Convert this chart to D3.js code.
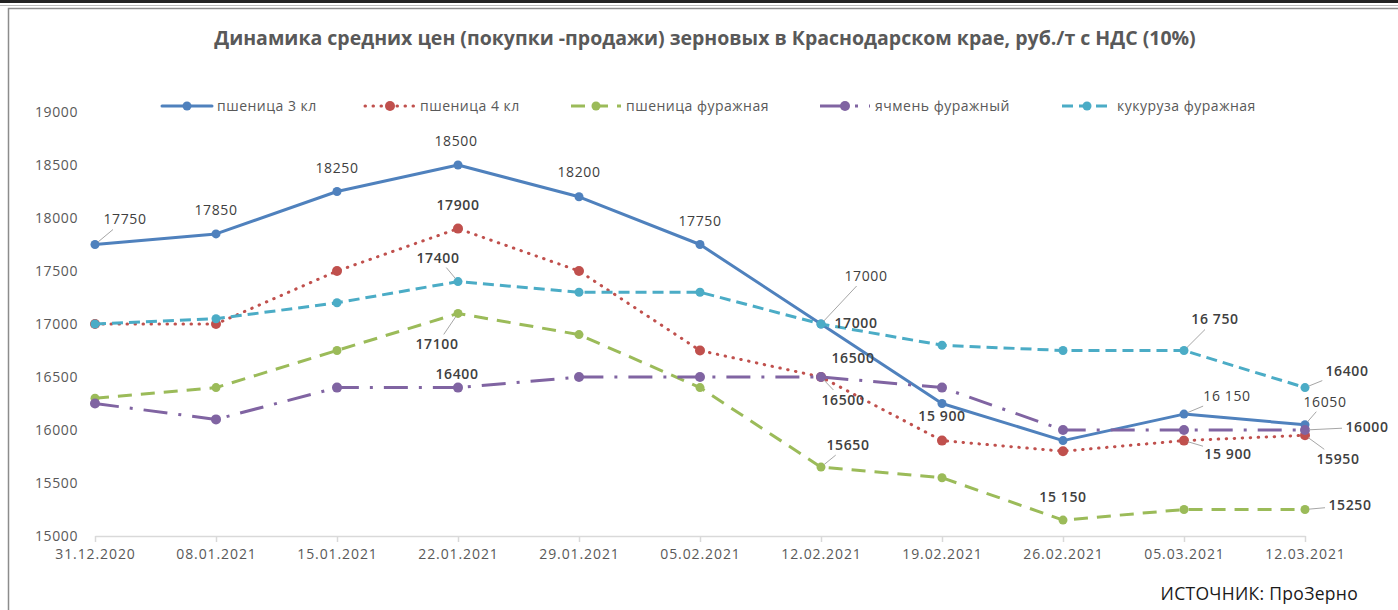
<!DOCTYPE html>
<html>
<head>
<meta charset="utf-8">
<script src="https://cdn.jsdelivr.net/npm/d3@7"></script>
<style>
  body { margin: 0; background: #fff; }
  text { font-family: "Open Sans", sans-serif; }
</style>
</head>
<body>
<div id="container"></div>
<script>
const WIDTH = 1398;
const HEIGHT = 610;

var DATES = ["31.12.2020", "08.01.2021", "15.01.2021", "22.01.2021", "29.01.2021", "05.02.2021",
    "12.02.2021", "19.02.2021", "26.02.2021", "05.03.2021", "12.03.2021"];
var Y_TICKS = [15000, 15500, 16000, 16500, 17000, 17500, 18000, 18500, 19000];

var WHEAT3 = [17750, 17850, 18250, 18500, 18200, 17750, 17000, 16250, 15900, 16150, 16050];
var WHEAT4 = [17000, 17000, 17500, 17900, 17500, 16750, 16500, 15900, 15800, 15900, 15950];
var WHEAT_FEED = [16300, 16400, 16750, 17100, 16900, 16400, 15650, 15550, 15150, 15250, 15250];
var BARLEY_FEED = [16250, 16100, 16400, 16400, 16500, 16500, 16500, 16400, 16000, 16000, 16000];
var CORN_FEED = [17000, 17050, 17200, 17400, 17300, 17300, 17000, 16800, 16750, 16750, 16400];

var TITLE = "Динамика средних цен (покупки -продажи) зерновых в Краснодарском крае, руб./т с НДС (10%)";
var SOURCE = "ИСТОЧНИК: ПроЗерно";

var series = [
    {name: "пшеница 3 кл", values: WHEAT3, color: "#4f81bd", dash: null, cap: "round", r: 4.5, legendX: 162, bold: false},
    {name: "пшеница 4 кл", values: WHEAT4, color: "#c0504d", dash: "0.5,7.5", cap: "round", r: 5, legendX: 365, bold: true},
    {name: "пшеница фуражная", values: WHEAT_FEED, color: "#9bbb59", dash: "14,9", cap: "butt", r: 4.5, legendX: 571, bold: true},
    {name: "ячмень фуражный", values: BARLEY_FEED, color: "#8064a2", dash: "24,11,3,11", cap: "butt", r: 5, legendX: 820, bold: true},
    {name: "кукуруза фуражная", values: CORN_FEED, color: "#4bacc6", dash: "11,6", cap: "butt", r: 4.5, legendX: 1062, bold: true}
];

// which points carry a data label: [series, point, dx, dy, leader, grouped]
var labels = [
    [0, 0, 30, -25, true, false], [0, 1, 0, -24, false, false], [0, 2, 0, -23, false, false],
    [0, 3, -2, -24, false, false], [0, 4, 0, -25, false, false], [0, 5, 0, -23, false, false],
    [0, 6, 45, -48, true, false], [0, 9, 43, -18, true, true], [0, 10, 20, -23, true, false],
    [1, 3, 0, -24, false, false], [1, 6, 22, 23, true, false], [1, 7, 0, -25, false, true],
    [1, 9, 44, 13, true, true], [1, 10, 33, 24, true, false],
    [2, 3, -21, 31, true, false], [2, 6, 27, -22, true, false], [2, 8, 0, -23, false, true],
    [2, 10, 45, -4, true, false],
    [3, 3, -1, -14, false, false], [3, 6, 32, -19, false, false], [3, 10, 62, -3, true, false],
    [4, 3, -20, -24, true, false], [4, 6, 35, -1, false, false], [4, 9, 31, -31, true, true],
    [4, 10, 42, -17, true, false]
];

var spaced = d3.formatLocale({decimal: ",", thousands: " ", grouping: [3]}).format(",");

var XScale = d3.scalePoint().domain(DATES).range([95, 1305]).padding(0);
var YScale = d3.scaleLinear().domain([15000, 19000]).range([536, 112]);

var svg = d3.select("#container").append("svg")
    .attr("width", WIDTH)
    .attr("height", HEIGHT);

// spreadsheet frame
svg.append("line").attr("x1", 0).attr("x2", WIDTH).attr("y1", 1.5).attr("y2", 1.5)
    .attr("stroke", "#222").attr("stroke-width", 3);
svg.append("line").attr("x1", 0).attr("x2", WIDTH).attr("y1", 5.5).attr("y2", 5.5)
    .attr("stroke", "#bbb").attr("stroke-width", 1);
svg.append("rect").attr("x", 8.5).attr("y", 8.5).attr("width", WIDTH).attr("height", HEIGHT)
    .attr("fill", "none").attr("stroke", "#8c8c8c").attr("stroke-width", 1.5);

svg.append("text")
    .attr("x", 705).attr("y", 45)
    .attr("text-anchor", "middle")
    .attr("font-size", 19.5).attr("font-weight", "bold")
    .attr("fill", "#595959")
    .text(TITLE);

// y axis, labels only
var yAxis = svg.append("g")
    .attr("transform", "translate(86,0)")
    .call(d3.axisLeft(YScale).tickValues(Y_TICKS).tickSize(0).tickPadding(8).tickFormat(d3.format("d")));
yAxis.select(".domain").remove();
yAxis.selectAll("text").attr("font-size", 14).attr("fill", "#595959")
    .attr("letter-spacing", 0.6).attr("font-family", "Open Sans");

// x axis
var xAxis = svg.append("g")
    .attr("transform", "translate(0,536)")
    .call(d3.axisBottom(XScale).tickSize(6).tickSizeOuter(0).tickPadding(7));
xAxis.select(".domain").attr("stroke", "#d9d9d9").attr("stroke-width", 1.5);
xAxis.selectAll(".tick line").attr("stroke", "#d9d9d9").attr("stroke-width", 1.5);
xAxis.selectAll("text").attr("font-size", 14).attr("fill", "#595959")
    .attr("letter-spacing", 0.9).attr("font-family", "Open Sans");

var line = d3.line()
    .x(function (d, i) { return XScale(DATES[i]); })
    .y(function (d) { return YScale(d); });

series.forEach(function (s) {
    svg.append("path")
        .datum(s.values)
        .attr("d", line)
        .attr("fill", "none")
        .attr("stroke", s.color)
        .attr("stroke-width", 3)
        .attr("stroke-linecap", s.cap)
        .attr("stroke-linejoin", "round")
        .attr("stroke-dasharray", s.dash);
    svg.selectAll(null)
        .data(s.values)
        .enter().append("circle")
        .attr("cx", function (d, i) { return XScale(DATES[i]); })
        .attr("cy", function (d) { return YScale(d); })
        .attr("r", s.r)
        .attr("fill", s.color);
});

// data labels with leader lines
labels.forEach(function (l) {
    var s = series[l[0]];
    var v = s.values[l[1]];
    var px = XScale(DATES[l[1]]), py = YScale(v);
    var cx = px + l[2], cy = py + l[3];
    if (l[4]) {
        var dx = px - cx, dy = py - cy;
        var len = Math.sqrt(dx * dx + dy * dy);
        var t = Math.min(Math.abs(dx) > 0 ? 25 / Math.abs(dx) : 99, Math.abs(dy) > 0 ? 10 / Math.abs(dy) : 99);
        svg.append("line")
            .attr("x1", px - dx / len * 4).attr("y1", py - dy / len * 4)
            .attr("x2", cx + dx * t).attr("y2", cy + dy * t)
            .attr("stroke", "#a6a6a6").attr("stroke-width", 1);
    }
    svg.append("text")
        .attr("x", cx).attr("y", cy)
        .attr("dy", "0.35em")
        .attr("text-anchor", "middle")
        .attr("font-size", 14)
        .attr("letter-spacing", 0.6)
        .attr("font-weight", s.bold ? 600 : 400)
        .attr("fill", "#404040")
        .text(l[5] ? spaced(v) : String(v));
});

// legend
var legend = svg.append("g").attr("transform", "translate(0,106)");
series.forEach(function (s) {
    legend.append("line")
        .attr("x1", s.legendX).attr("x2", s.legendX + 50)
        .attr("stroke", s.color).attr("stroke-width", 3)
        .attr("stroke-linecap", s.cap)
        .attr("stroke-dasharray", s.dash);
    legend.append("circle").attr("cx", s.legendX + 25).attr("r", s.r).attr("fill", s.color);
    legend.append("text")
        .attr("x", s.legendX + 55).attr("dy", "0.35em")
        .attr("font-size", 14).attr("letter-spacing", 0.5).attr("fill", "#595959")
        .text(s.name);
});

svg.append("text")
    .attr("x", 1358).attr("y", 594).attr("dy", "0.35em")
    .attr("text-anchor", "end")
    .attr("font-size", 17.5).attr("letter-spacing", 0.3).attr("fill", "#1a1a1a")
    .text(SOURCE);
</script>
</body>
</html>
